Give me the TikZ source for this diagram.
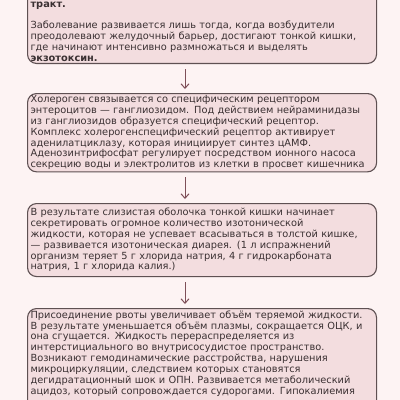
\documentclass[tikz,border=0pt]{standalone}
\usepackage{fontspec}
\setmainfont{DejaVu Sans}
\usetikzlibrary{arrows.meta}
\definecolor{bgpink}{HTML}{FDF3F3}
\definecolor{boxfill}{HTML}{F3DDDF}
\definecolor{boxline}{HTML}{5E5052}
\definecolor{arrowc}{HTML}{7E4F58}
\definecolor{txt}{HTML}{3A3032}
\tikzset{
  stagebox/.style={draw=boxline, line width=1.1pt, fill=boxfill, rounded corners=9pt,
    text width=343pt, inner xsep=3pt, inner ysep=2pt, align=left, anchor=north west,
    text=txt, font=\fontsize{9.8}{10.85}\selectfont},
  flowarrow/.style={draw=arrowc, line width=1pt, -{Straight Barb[length=4.5pt,width=8pt,line width=1pt]},
    shorten <=5pt, shorten >=4pt}
}
\begin{document}
\begin{tikzpicture}[x=1pt,y=-1pt]
\useasboundingbox (0,0) rectangle (400,400);
\clip (0,0) rectangle (400,400);
\fill[bgpink] (-5,-5) rectangle (405,405);

\node[stagebox, anchor=south west] (b1) at (27,64) {\rule{0pt}{40pt}\textbf{тракт.}\\[10.85pt]
Заболевание развивается лишь тогда, когда возбудители\\
преодолевают желудочный барьер, достигают тонкой кишки,\\
где начинают интенсивно размножаться и выделять\\
\textbf{экзотоксин.}};

\node[stagebox, minimum height=78pt] (b2) at (27,93) {Холероген связывается со специфическим рецептором\\
энтероцитов — ганглиозидом. Под действием нейраминидазы\\
из ганглиозидов образуется специфический рецептор.\\
Комплекс холерогенспецифический рецептор активирует\\
аденилатциклазу, которая инициирует синтез цАМФ.\\
Аденозинтрифосфат регулирует посредством ионного насоса\\
секрецию воды и электролитов из клетки в просвет кишечника};

\node[stagebox, minimum height=73pt] (b3) at (27,203) {В результате слизистая оболочка тонкой кишки начинает\\
секретировать огромное количество изотонической\\
жидкости, которая не успевает всасываться в толстой кишке,\\
— развивается изотоническая диарея. (1 л испражнений\\
организм теряет 5 г хлорида натрия, 4 г гидрокарбоната\\
натрия, 1 г хлорида калия.)};

\node[stagebox] (b4) at (27,308) {Присоединение рвоты увеличивает объём теряемой жидкости.\\
В результате уменьшается объём плазмы, сокращается ОЦК, и\\
она сгущается. Жидкость перераспределяется из\\
интерстициального во внутрисосудистое пространство.\\
Возникают гемодинамические расстройства, нарушения\\
микроциркуляции, следствием которых становятся\\
дегидратационный шок и ОПН. Развивается метаболический\\
ацидоз, который сопровождается судорогами. Гипокалиемия\\[30pt]
\mbox{}};

\draw[flowarrow] (b1.south -| 185,0) -- (b2.north -| 185,0);
\draw[flowarrow] (b2.south -| 185,0) -- (b3.north -| 185,0);
\draw[flowarrow] (b3.south -| 185,0) -- (b4.north -| 185,0);
\end{tikzpicture}
\end{document}
